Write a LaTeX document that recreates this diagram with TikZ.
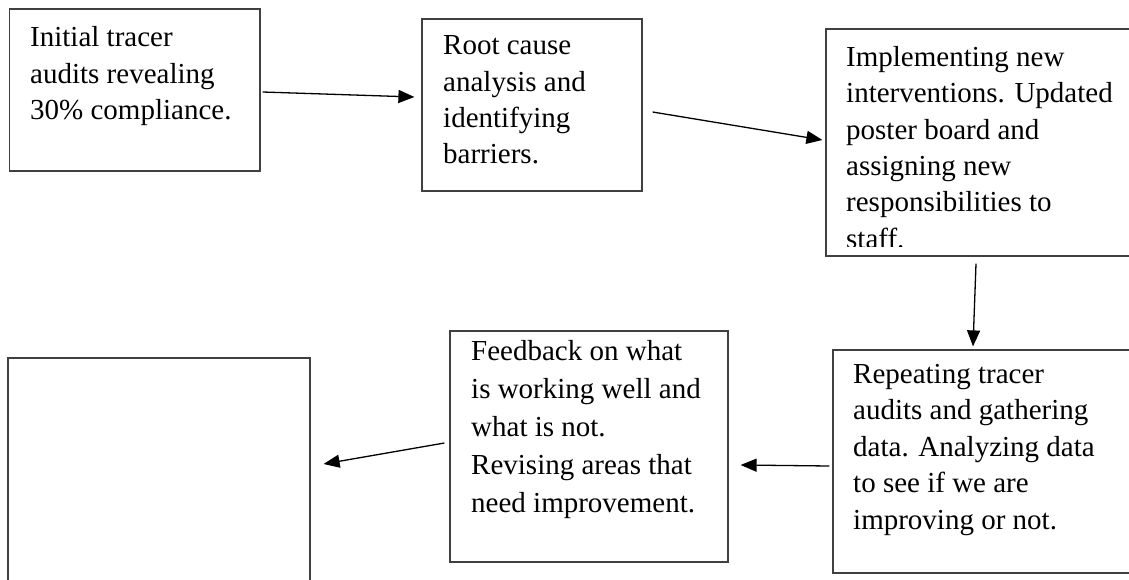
\documentclass[tikz,border=0pt]{standalone}
\usepackage{fontspec}
\setmainfont{Liberation Serif}
\usetikzlibrary{positioning, calc, arrows.meta}

\begin{document}
\begin{tikzpicture}[x=1pt, y=-1pt,
	caixa/.style={draw=black!75, line width=1.2pt, rectangle, inner sep=0pt},
	texto/.style={anchor=north west, inner sep=0pt, align=left, font=\fontsize{29}{36.4}\selectfont},
	seta/.style={-{Triangle[length=16pt,width=13pt]}, line width=1.3pt}]
	
	\clip (0,0) rectangle (1129,580);
	
	%% Caixas
	\node [caixa, minimum width=250.5pt, minimum height=162pt] (inicial) at (134.75,90) {};
	\node [caixa, minimum width=220pt, minimum height=172pt] (causa) at (532,105) {};
	\node [caixa, minimum width=309pt, minimum height=227pt] (intervencao) at (980.5,142.5) {};
	\node [caixa, minimum width=302pt, minimum height=223pt] (repeticao) at (984,461.5) {};
	\node [caixa, minimum width=278pt, minimum height=231pt] (feedback) at (589,446.5) {};
	\node [caixa, minimum width=302pt, minimum height=232pt] (vazio) at (159,474) {};
	
	%% Textos das caixas
	\node [texto] (tInicial) at (30,26.5) {Initial tracer\\audits revealing\\30\% compliance.};
	\node [texto] (tCausa) at (443,35.5) {Root cause\\analysis and\\identifying\\barriers.};
	\begin{scope}
		\clip (intervencao.north west) rectangle (1129,246);
		\node [texto] (tIntervencao) at (846,46) {Implementing new\\interventions. Updated\\poster board and\\assigning new\\responsibilities to\\staff.};
	\end{scope}
	\node [texto] (tRepeticao) at (853,364) {Repeating tracer\\audits and gathering\\data. Analyzing data\\to see if we are\\improving or not.};
	\node [texto, font=\fontsize{29}{38}\selectfont] (tFeedback) at (471,340) {Feedback on what\\is working well and\\what is not.\\Revising areas that\\need improvement.};
	
	%% Setas
	\draw [seta] ($(inicial.east)+(2,2)$) -- ($(causa.west)+(-7,-8)$);
	\draw [seta] ($(causa.east)+(10,7)$) -- ($(intervencao.west)+(-3,-2.5)$);
	\draw [seta] ($(intervencao.south)+(-4.5,7)$) -- ($(repeticao.north)+(-11,-3)$);
	\draw [seta] ($(repeticao.west)+(-3,4.5)$) -- ($(feedback.east)+(12,18.5)$);
	\draw [seta] ($(feedback.west)+(-5,-3.5)$) -- ($(vazio.east)+(13,-10)$);
	
\end{tikzpicture}
\end{document}
